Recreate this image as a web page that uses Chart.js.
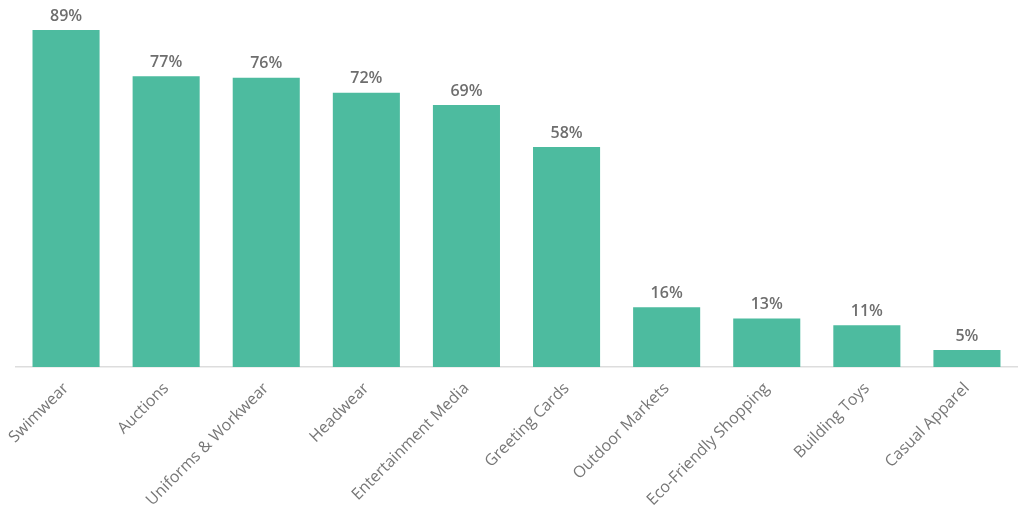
<!DOCTYPE html>
<html>
<head>
<meta charset="utf-8">
<script src="https://cdn.jsdelivr.net/npm/chart.js@4"></script>
<style>
  html, body { margin: 0; padding: 0; background: #fff; }
  #wrap { width: 1024px; height: 525px; }
</style>
</head>
<body>
<div id="wrap"><canvas id="barChart"></canvas></div>
<script>
const categories = ['Swimwear', 'Auctions', 'Uniforms & Workwear', 'Headwear', 'Entertainment Media',
    'Greeting Cards', 'Outdoor Markets', 'Eco-Friendly Shopping', 'Building Toys', 'Casual Apparel'];
// bar heights; the labels show them rounded
const shares = [89, 76.8, 76.4, 72.4, 69.2, 58.1, 15.8, 12.8, 11.0, 4.5];

// percent label over every bar
const valueLabels = {
    id: 'valueLabels',
    afterDatasetsDraw(chart) {
        const ctx = chart.ctx;
        const meta = chart.getDatasetMeta(0);
        ctx.save();
        ctx.font = '600 16px "Open Sans"';
        ctx.fillStyle = '#6e6e6e';
        ctx.textAlign = 'center';
        ctx.textBaseline = 'bottom';
        meta.data.forEach((bar, i) => {
            ctx.fillText(Math.round(shares[i]) + '%', bar.x, bar.y - 6);
        });
        ctx.restore();
    }
};

new Chart(document.getElementById('barChart'), {
    type: 'bar',
    data: {
        labels: categories,
        datasets: [{ data: shares, backgroundColor: '#4dbb9f', categoryPercentage: 0.67, barPercentage: 1 }]
    },
    options: {
        responsive: true,
        maintainAspectRatio: false,
        animation: false,
        layout: { padding: { top: 30, left: 16, right: 7, bottom: 0 } },
        plugins: { legend: { display: false }, tooltip: { enabled: false } },
        scales: {
            y: { display: false, min: 0, max: 89 },
            x: {
                grid: { display: false },
                border: { display: true, color: '#dddddd', width: 1.5 },
                ticks: {
                    color: '#777',
                    font: { family: '"Open Sans"', size: 16 },
                    minRotation: 45, maxRotation: 45, padding: 4
                },
                afterFit(scale) { scale.height = 158; }
            }
        }
    },
    plugins: [valueLabels]
});
</script>
</body>
</html>
